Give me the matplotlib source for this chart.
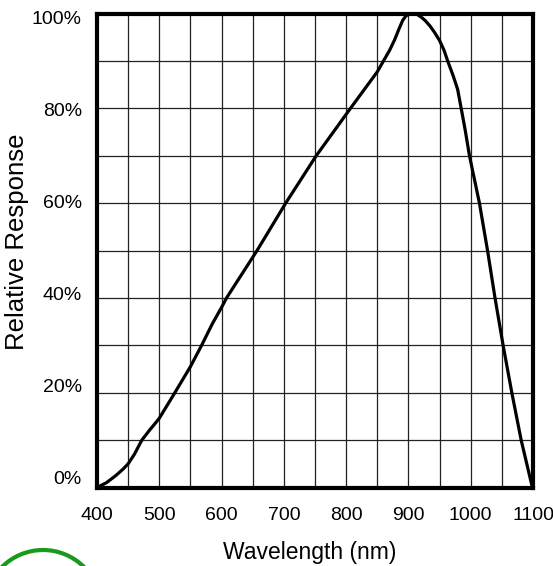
import matplotlib
matplotlib.use("Agg")
import matplotlib.pyplot as plt
from matplotlib.patches import Circle
from matplotlib.transforms import blended_transform_factory
import numpy as np

plt.rcParams['font.family'] = ['Liberation Sans', 'DejaVu Sans']

wavelength = [400, 415, 430, 442, 450, 460, 472, 485, 492, 500, 512, 525, 550, 568,
              585, 600, 608, 657, 703, 752, 807, 850, 860, 870, 878, 885, 891, 896,
              901, 907, 914, 920, 927, 935, 942, 950, 957, 963, 972, 979, 984, 991,
              998, 1014, 1027, 1039, 1052, 1066, 1081, 1099]
response = [0, 1, 2.5, 3.9, 5, 7, 10, 12.2, 13.3, 14.6, 17.2, 20, 25.5, 30,
            34.5, 38, 40, 50, 60, 70, 80, 87.7, 90, 92.3, 94.5, 96.8, 98.6, 99.5,
            99.9, 100, 99.8, 99.3, 98.5, 97.3, 96, 94.3, 92.3, 90, 86.8, 84, 80.5, 75.5,
            70, 60, 50, 40, 30, 20, 10, 0]

x_ticks = [400, 500, 600, 700, 800, 900, 1000, 1100]
y_ticks = [0, 20, 40, 60, 80, 100]
y_tick_labels = ['0%', '20%', '40%', '60%', '80%', '100%']

fig = plt.figure(figsize=(5.53, 5.66), dpi=100)
ax = fig.add_axes([97/553, 1-487.5/566, 436/553, 474/566])

ax.plot(wavelength, response, color='black', lw=2.3, solid_capstyle='round',
        solid_joinstyle='round', clip_on=False, zorder=3)

ax.set_xlim(400, 1100)
ax.set_ylim(0, 100)
ax.set_xticks(x_ticks)
ax.set_xticks(np.arange(450, 1100, 100), minor=True)
ax.set_yticks(y_ticks)
ax.set_yticklabels([])
ax.set_yticks(np.arange(10, 100, 20), minor=True)
ax.grid(True, which='both', color='#222222', lw=0.9)
ax.tick_params(which='both', length=0)
ax.tick_params(axis='x', labelsize=14, pad=14)

# y tick labels (slightly compressed toward the middle, as in the reference)
tr = blended_transform_factory(ax.transAxes, ax.transData)
for v, lab in zip(y_ticks, y_tick_labels):
    ax.text(-15/436, 1.7 + 0.97*v, lab, transform=tr, ha='right', va='center',
            fontsize=14)

for s in ax.spines.values():
    s.set_linewidth(3)
    s.set_zorder(4)

fig.text(310/553, 1-552/566, 'Wavelength (nm)', fontsize=16.5, ha='center', va='center')
fig.text(17/553, 1-242/566, 'Relative Response', fontsize=18.5, ha='center', va='center',
         rotation=90)

circ = Circle((43, -42), 58, transform=None, fill=False, edgecolor='#1a9a1a', lw=3)
fig.patches.append(circ)

fig.savefig('out.png', dpi=100)
